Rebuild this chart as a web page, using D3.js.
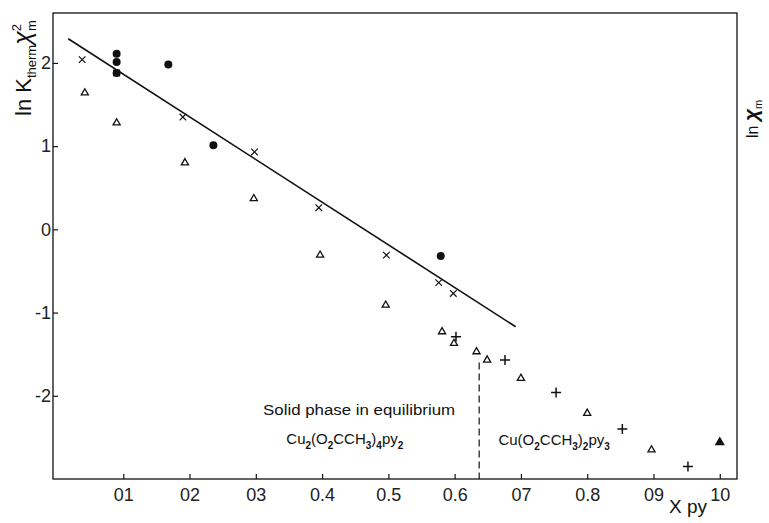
<!DOCTYPE html>
<meta charset="UTF-8">
<style>
body { margin: 0; background: #fff; }
svg { display: block; }
.tick text { font-family: "Liberation Sans Narrow", "Arial Narrow", sans-serif; fill: #222; }
.tick line { stroke: #111; stroke-width: 1.2px; }
.note { font-family: "Liberation Sans Narrow", "Arial Narrow", sans-serif; fill: #111; }
</style>
<body>
<script src="https://d3js.org/d3.v7.min.js"></script>
<script>
// ---- data ----
var xTicks = [0.1, 0.2, 0.3, 0.4, 0.5, 0.6, 0.7, 0.8, 0.9, 1.0];
var xTickLabels = ["01", "02", "03", "0.4", "0.5", "0.6", "07", "0.8", "09", "10"];
var yTicks = [2, 1, 0, -1, -2];
var yTickLabels = ["2", "1", "0", "-1", "-2"];

// crosses
var crossX = [0.038, 0.090, 0.190, 0.298, 0.395, 0.497, 0.576, 0.598];
var crossY = [2.04, 1.88, 1.35, 0.93, 0.26, -0.31, -0.64, -0.77];
// filled circles
var dotX = [0.090, 0.090, 0.090, 0.168, 0.236, 0.579];
var dotY = [2.11, 2.01, 1.88, 1.98, 1.01, -0.32];
// open triangles
var triX = [0.042, 0.090, 0.193, 0.297, 0.397, 0.496, 0.581, 0.599, 0.633, 0.649, 0.700, 0.800, 0.897];
var triY = [1.64, 1.28, 0.80, 0.37, -0.31, -0.91, -1.23, -1.37, -1.47, -1.57, -1.79, -2.21, -2.65];
// filled triangle
var solidTriX = [1.0];
var solidTriY = [-2.56];
// plus signs
var plusX = [0.602, 0.676, 0.753, 0.853, 0.952];
var plusY = [-1.29, -1.57, -1.96, -2.40, -2.85];
// fitted straight line
var fitX = [0.017, 0.692];
var fitY = [2.29, -1.17];
// phase boundary
var boundaryX = 0.637;
var boundaryY = [-1.60, -3.0];

var width = 769, height = 523;
var box = {left: 53, right: 737, top: 13, bottom: 479};

var svg = d3.select("body").append("svg")
    .attr("width", width)
    .attr("height", height);

var x = d3.scaleLinear().domain([-0.006, 1.026]).range([box.left, box.right]);
var y = d3.scaleLinear().domain([-3, 2.6]).range([box.bottom, box.top]);

// frame
svg.append("rect")
    .attr("x", box.left).attr("y", box.top)
    .attr("width", box.right - box.left).attr("height", box.bottom - box.top)
    .attr("fill", "none").attr("stroke", "#111").attr("stroke-width", 1.3);

// axes, ticks pointing inward
var xAxis = svg.append("g")
    .attr("transform", "translate(0," + box.bottom + ")")
    .call(d3.axisBottom(x).tickValues(xTicks).tickSize(-5).tickPadding(9)
        .tickFormat(function(d, i) { return xTickLabels[i]; }));
xAxis.select(".domain").remove();
xAxis.selectAll("text").style("font-size", "18px");

var yAxis = svg.append("g")
    .attr("transform", "translate(" + box.left + ",0)")
    .call(d3.axisLeft(y).tickValues(yTicks).tickSize(-5).tickPadding(2)
        .tickFormat(function(d, i) { return yTickLabels[i]; }));
yAxis.select(".domain").remove();
yAxis.selectAll("text").style("font-size", "18px");

// fitted line
var line = d3.line().x(function(d) { return x(d[0]); }).y(function(d) { return y(d[1]); });
svg.append("path")
    .datum(d3.zip(fitX, fitY))
    .attr("d", line)
    .attr("fill", "none").attr("stroke", "#111").attr("stroke-width", 1.6);

// dashed boundary
svg.append("line")
    .attr("x1", x(boundaryX)).attr("x2", x(boundaryX))
    .attr("y1", y(boundaryY[0])).attr("y2", y(boundaryY[1]))
    .attr("stroke", "#111").attr("stroke-width", 1.2)
    .attr("stroke-dasharray", "7,4");

// markers
var triSym = d3.symbol().type(d3.symbolTriangle).size(22);
var bigTri = d3.symbol().type(d3.symbolTriangle).size(45);

svg.append("g").selectAll("path")
    .data(d3.zip(triX, triY))
  .enter().append("path")
    .attr("d", triSym)
    .attr("transform", function(d) { return "translate(" + x(d[0]) + "," + y(d[1]) + ")"; })
    .attr("fill", "#fff").attr("stroke", "#111").attr("stroke-width", 1.3);

svg.append("g").selectAll("path")
    .data(d3.zip(solidTriX, solidTriY))
  .enter().append("path")
    .attr("d", bigTri)
    .attr("transform", function(d) { return "translate(" + x(d[0]) + "," + y(d[1]) + ")"; })
    .attr("fill", "#111");

svg.append("g").selectAll("circle")
    .data(d3.zip(dotX, dotY))
  .enter().append("circle")
    .attr("cx", function(d) { return x(d[0]); })
    .attr("cy", function(d) { return y(d[1]); })
    .attr("r", 4)
    .attr("fill", "#111");

var cross = d3.symbol().type(d3.symbolX).size(30);
svg.append("g").selectAll("path")
    .data(d3.zip(crossX, crossY))
  .enter().append("path")
    .attr("d", cross)
    .attr("transform", function(d) { return "translate(" + x(d[0]) + "," + y(d[1]) + ")"; })
    .attr("fill", "none").attr("stroke", "#111").attr("stroke-width", 1.2);

// plus marks drawn as two short strokes
svg.append("g").selectAll("path")
    .data(d3.zip(plusX, plusY))
  .enter().append("path")
    .attr("d", "M-5,0H5M0,-5V5")
    .attr("transform", function(d) { return "translate(" + x(d[0]) + "," + y(d[1]) + ")"; })
    .attr("fill", "none").attr("stroke", "#111").attr("stroke-width", 1.5);

// annotations
svg.append("text").attr("class", "note")
    .attr("x", x(0.311)).attr("y", y(-2.23))
    .attr("textLength", 192).attr("lengthAdjust", "spacingAndGlyphs")
    .style("font-size", "14px")
    .text("Solid phase in equilibrium");

// parts: [text, isSubscript]
function formula(tx, ty, parts) {
  var t = svg.append("text").attr("class", "note")
      .attr("x", tx).attr("y", ty)
      .style("font-size", "15px");
  var low = false;
  parts.forEach(function(p) {
    var s = t.append("tspan").text(p[0]);
    if (p[1] && !low) s.attr("dy", 5);
    if (!p[1] && low) s.attr("dy", -5);
    if (p[1]) s.style("font-size", "10px").style("font-weight", "bold");
    low = p[1];
  });
}
formula(x(0.346), y(-2.58),
  [["Cu"], ["2", 1], ["(O"], ["2", 1], ["CCH"], ["3", 1], [")"], ["4", 1], ["py"], ["2", 1]]);
formula(x(0.666), y(-2.59),
  [["Cu(O"], ["2", 1], ["CCH"], ["3", 1], [")"], ["2", 1], ["py"], ["3", 1]]);

// axis titles
svg.append("text").attr("class", "note")
    .attr("x", 669).attr("y", 513)
    .style("font-size", "19px")
    .text("X py");

var yl = svg.append("text").attr("class", "note")
    .attr("transform", "translate(31,116) rotate(-90)")
    .style("font-size", "22px");
yl.append("tspan").text("ln K");
yl.append("tspan").attr("dy", 5).style("font-size", "13px").text("therm");
yl.append("tspan").attr("dy", -5).style("font-size", "25px").style("font-style", "italic").text("\u03c7");
yl.append("tspan").attr("dy", -10).style("font-size", "13px").text("2");
yl.append("tspan").attr("dx", -7).attr("dy", 15).style("font-size", "13px").text("m");

var yr = svg.append("text").attr("class", "note")
    .attr("transform", "translate(758,138) rotate(-90)")
    .style("font-size", "16px");
yr.append("tspan").text("ln ");
yr.append("tspan").style("font-size", "21px").style("font-style", "italic").style("font-weight", "bold").text("\u03c7");
yr.append("tspan").attr("dy", 4).style("font-size", "11px").text("m");
</script>
</body>
